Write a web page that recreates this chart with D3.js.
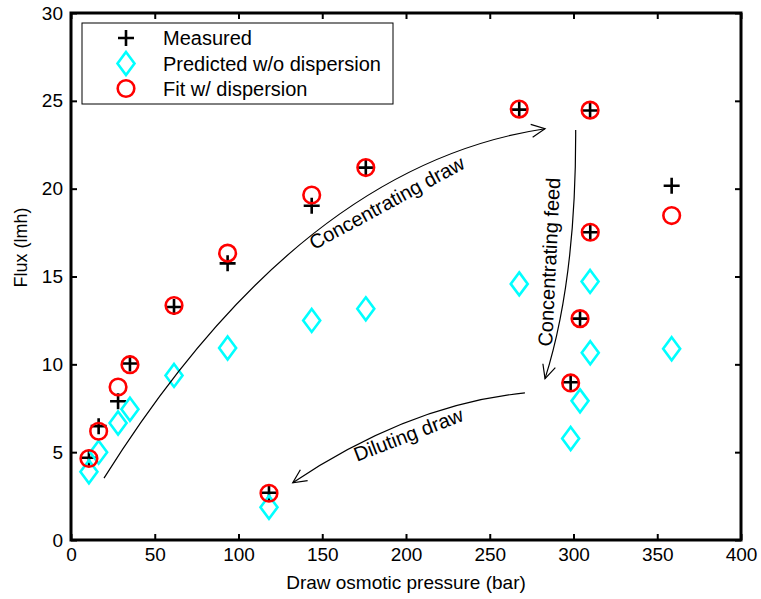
<!DOCTYPE html>
<html>
<head>
<meta charset="utf-8">
<script src="https://cdn.jsdelivr.net/npm/d3@7"></script>
<style>
  body { margin: 0; background: #fff; }
  text { font-family: "Liberation Sans", Arial, Helvetica, sans-serif; }
</style>
</head>
<body>
<script>
// draw osmotic pressure (bar), same for every series
const pressure = [10.7, 16.5, 28.1, 35.2, 61.5, 93.5, 143.7, 176, 267.6, 309.9, 310, 303.9, 298.3, 118.2, 358.6]
const measured = [4.68, 6.48, 7.9, 10.05, 13.26, 15.75, 19.03, 21.2, 24.5, 24.45, 17.52, 12.6, 8.98, 2.69, 20.17]
const predicted = [3.88, 5.0, 6.66, 7.44, 9.37, 10.93, 12.5, 13.16, 14.58, 14.72, 10.66, 7.92, 5.78, 1.86, 10.89]
const fitted = [4.64, 6.19, 8.71, 9.98, 13.35, 16.33, 19.64, 21.2, 24.53, 24.47, 17.52, 12.6, 8.94, 2.66, 18.47]

const xTicks = [0, 50, 100, 150, 200, 250, 300, 350, 400]
const yTicks = [0, 5, 10, 15, 20, 25, 30]
const legendLabels = ["Measured", "Predicted w/o dispersion", "Fit w/ dispersion"]

// annotation arrows: start, control, end (data units) and label
const arrows = [
  { label: "Concentrating draw", pts: [[19.7, 3.52], [136.7, 21.31], [283, 23.41]], text: [190.5, 18.85], angle: -28.5 },
  { label: "Concentrating feed", pts: [[301.3, 23.34], [301.6, 14.77], [283, 9.19]], text: [289.6, 15.8], angle: -87.2 },
  { label: "Diluting draw", pts: [[271, 8.37], [202.3, 7.72], [132.4, 3.26]], text: [202.9, 5.63], angle: -21 }
]

const width = 761
const height = 599
const margin = { left: 71, right: 20, top: 13, bottom: 59 }

let svg = d3.select("body").append("svg")
  .attr("width", width)
  .attr("height", height)

let x = d3.scaleLinear().domain([0, 400]).range([margin.left, width - margin.right])
let y = d3.scaleLinear().domain([0, 30]).range([height - margin.bottom, margin.top])

let x0 = x.range()[0], x1 = x.range()[1]
let y0 = y.range()[0], y1 = y.range()[1]

// axes, MATLAB style: ticks inside on all four sides
let tickLen = 6
svg.append("g")
  .attr("transform", `translate(0,${y0})`)
  .call(d3.axisBottom(x).tickValues(xTicks).tickSizeInner(-tickLen).tickSizeOuter(0).tickPadding(8))
svg.append("g")
  .attr("transform", `translate(0,${y1})`)
  .call(d3.axisTop(x).tickValues(xTicks).tickSizeInner(-tickLen).tickSizeOuter(0).tickFormat(""))
svg.append("g")
  .attr("transform", `translate(${x0},0)`)
  .call(d3.axisLeft(y).tickValues(yTicks).tickSizeInner(-tickLen).tickSizeOuter(0).tickPadding(8))
svg.append("g")
  .attr("transform", `translate(${x1},0)`)
  .call(d3.axisRight(y).tickValues(yTicks).tickSizeInner(-tickLen).tickSizeOuter(0).tickFormat(""))

svg.selectAll(".domain").remove()
svg.selectAll(".tick line").attr("stroke", "#000").attr("stroke-width", 2)
svg.selectAll(".tick text").attr("font-size", 19).attr("fill", "#000")

svg.append("rect")
  .attr("x", x0).attr("y", y1)
  .attr("width", x1 - x0).attr("height", y0 - y1)
  .attr("fill", "none").attr("stroke", "#000").attr("stroke-width", 3)

svg.append("text")
  .attr("x", (x0 + x1) / 2).attr("y", 589)
  .attr("text-anchor", "middle").attr("font-size", 19)
  .text("Draw osmotic pressure (bar)")
svg.append("text")
  .attr("transform", `translate(27,${(y0 + y1) / 2 - 29}) rotate(-90)`)
  .attr("text-anchor", "middle").attr("font-size", 18)
  .text("Flux (lmh)")

// marker shapes
function plus(g, cx, cy) {
  g.append("path")
    .attr("d", `M${cx - 8},${cy}H${cx + 8}M${cx},${cy - 8}V${cy + 8}`)
    .attr("stroke", "#000").attr("stroke-width", 2.6).attr("fill", "none")
}
function diamond(g, cx, cy) {
  g.append("path")
    .attr("d", `M${cx},${cy - 11.5}L${cx + 8.5},${cy}L${cx},${cy + 11.5}L${cx - 8.5},${cy}Z`)
    .attr("stroke", "#00ffff").attr("stroke-width", 2.6).attr("fill", "none")
}
function ring(g, cx, cy) {
  g.append("circle")
    .attr("cx", cx).attr("cy", cy).attr("r", 8.3)
    .attr("stroke", "#ff0000").attr("stroke-width", 2.6).attr("fill", "none")
}

let marks = svg.append("g")
pressure.forEach((p, i) => plus(marks, x(p), y(measured[i])))
pressure.forEach((p, i) => diamond(marks, x(p), y(predicted[i])))
pressure.forEach((p, i) => ring(marks, x(p), y(fitted[i])))

// annotation arrows
let curve = svg.append("g")
arrows.forEach(a => {
  let p = a.pts.map(d => [x(d[0]), y(d[1])])
  curve.append("path")
    .attr("d", `M${p[0][0]},${p[0][1]}Q${p[1][0]},${p[1][1]} ${p[2][0]},${p[2][1]}`)
    .attr("fill", "none").attr("stroke", "#000").attr("stroke-width", 1.2)
  // open arrow head along the end tangent
  let ang = Math.atan2(p[2][1] - p[1][1], p[2][0] - p[1][0])
  let len = 15, spread = 0.45
  let a1 = [p[2][0] - len * Math.cos(ang - spread), p[2][1] - len * Math.sin(ang - spread)]
  let a2 = [p[2][0] - len * Math.cos(ang + spread), p[2][1] - len * Math.sin(ang + spread)]
  curve.append("path")
    .attr("d", `M${a1[0]},${a1[1]}L${p[2][0]},${p[2][1]}L${a2[0]},${a2[1]}`)
    .attr("fill", "none").attr("stroke", "#000").attr("stroke-width", 1.2)
  curve.append("text")
    .attr("transform", `translate(${x(a.text[0])},${y(a.text[1])}) rotate(${a.angle})`)
    .attr("text-anchor", "middle").attr("font-size", 20)
    .text(a.label)
})

// legend
let legend = svg.append("g")
legend.append("rect")
  .attr("x", 82).attr("y", 23).attr("width", 311).attr("height", 81)
  .attr("fill", "#fff").attr("stroke", "#000").attr("stroke-width", 1)
let rowY = [38, 63.5, 88.5]
plus(legend, 126, rowY[0])
diamond(legend, 126, rowY[1])
ring(legend, 126, rowY[2])
legendLabels.forEach((t, i) => {
  legend.append("text")
    .attr("x", 163).attr("y", rowY[i] + 7)
    .attr("font-size", 20)
    .text(t)
})
</script>
</body>
</html>
